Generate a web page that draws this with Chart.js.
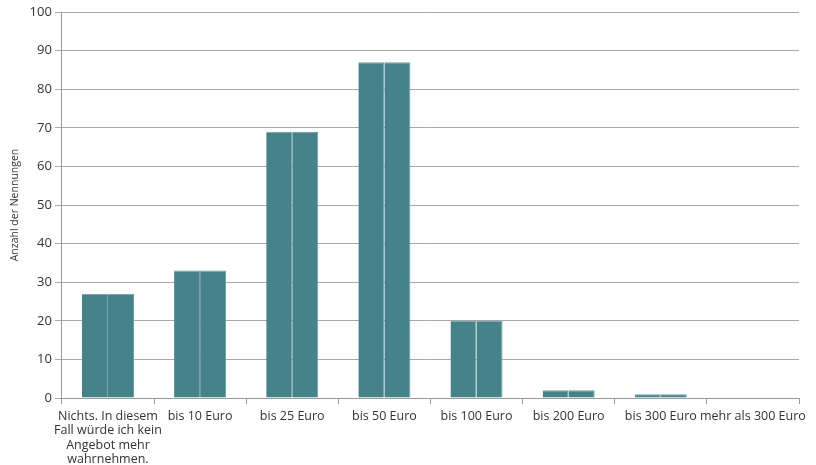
<!DOCTYPE html>
<html><head><meta charset="utf-8">
<script src="https://cdn.jsdelivr.net/npm/chart.js@4/dist/chart.umd.min.js"></script>
<style>html,body{margin:0;padding:0;background:#fff}#wrap{width:816px;height:465px}</style>
</head><body><div id="wrap"><canvas id="c" width="816" height="465"></canvas></div>
<script>
const categories = [
  ["Nichts. In diesem", "Fall würde ich kein", "Angebot mehr", "wahrnehmen."],
  "bis 10 Euro", "bis 25 Euro", "bis 50 Euro", "bis 100 Euro",
  "bis 200 Euro", "bis 300 Euro", "mehr als 300 Euro"
];
const nennungen = [27, 33, 69, 87, 20, 2, 1, 0];
const yTicks = [0, 10, 20, 30, 40, 50, 60, 70, 80, 90, 100];
const yTitle = "Anzahl der Nennungen";

const barColor = "#46828a";
const edgeColor = "#6a9ea4";
const fam = "'Open Sans', sans-serif";

new Chart(document.getElementById("c"), {
  type: "bar",
  data: {
    labels: categories,
    datasets: [
      {data: nennungen, backgroundColor: barColor, borderColor: edgeColor, borderWidth: {left:0,right:1,top:1,bottom:0}, categoryPercentage: 0.565, barPercentage: 1},
      {data: nennungen, backgroundColor: barColor, borderColor: edgeColor, borderWidth: {left:0,right:1,top:1,bottom:0}, categoryPercentage: 0.565, barPercentage: 1}
    ]
  },
  options: {
    responsive: false,
    animation: false,
    layout: {padding: {top: 12, right: 17, left: 9, bottom: 0}},
    plugins: {legend: {display: false}, tooltip: {enabled: false}},
    scales: {
      x: {
        afterFit: (s) => { s.height = 67; },
        grid: {display: true, drawOnChartArea: false, offset: true, color: "#9a9a9a", tickLength: 6},
        border: {color: "#9a9a9a"},
        ticks: {color: "#333", font: {family: fam, size: 12.5, lineHeight: 1.15}, maxRotation: 0, autoSkip: false, padding: 5}
      },
      y: {
        min: 0, max: 100,
        afterBuildTicks: (ax) => { ax.ticks = yTicks.map(v => ({value: v})); },
        grid: {color: "#a8a8a8", tickLength: 7},
        border: {color: "#9a9a9a"},
        ticks: {color: "#333", font: {family: fam, size: 13}, padding: 3},
        title: {display: true, text: yTitle, color: "#333", font: {family: fam, size: 10.5}, padding: {top: 0, bottom: 5}}
      }
    }
  }
});
</script></body></html>
